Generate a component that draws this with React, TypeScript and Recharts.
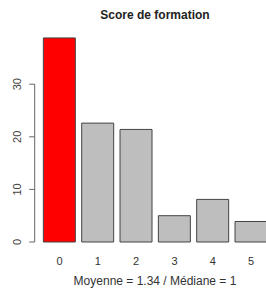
// Barplot of training scores (Score de formation)

import { BarChart, Bar, XAxis, YAxis, Cell } from "recharts";

const scores = ["0", "1", "2", "3", "4", "5"];
const percents = [38.8, 22.6, 21.4, 5.0, 8.1, 3.9];
const yTicks = [0, 10, 20, 30];

const Y_MAX = 40;
const PLOT_TOP = 31.6;
const PLOT_BOTTOM = 242;
const AXIS_X = 34.7;
const FONT = "'Liberation Sans', Arial, sans-serif";

const data = scores.map((score, i) => ({ score, value: percents[i] }));

function YTick(props: any) {
  const { y, payload } = props;
  const last = payload.value === yTicks[yTicks.length - 1];
  const y0 = y + (payload.value * (PLOT_BOTTOM - PLOT_TOP)) / Y_MAX;
  return (
    <g>
      <line x1={AXIS_X - 5.5} y1={y} x2={AXIS_X} y2={y} stroke="#666" />
      {last && <line x1={AXIS_X} y1={y} x2={AXIS_X} y2={y0} stroke="#666" />}
      <text
        x={16.7}
        y={y}
        transform={`rotate(-90 16.7 ${y})`}
        textAnchor="middle"
        dominantBaseline="central"
        fontSize={11}
        fill="#444"
        fontFamily={FONT}
      >
        {payload.value}
      </text>
    </g>
  );
}

export default function App() {
  return (
    <div
      style={{
        position: "fixed",
        left: 0,
        top: 0,
        width: 266,
        height: 289,
        overflow: "hidden",
        background: "#fff",
        fontFamily: FONT,
      }}
    >
      <div
        style={{
          position: "absolute",
          left: 0,
          width: 310,
          top: 8,
          textAlign: "center",
          fontSize: 12,
          fontWeight: "bold",
          color: "#222",
        }}
      >
        Score de formation
      </div>
      <BarChart
        width={271}
        height={289}
        data={data}
        margin={{ top: PLOT_TOP, right: 0.65, bottom: 0, left: 0 }}
      >
        <YAxis
          width={40.35}
          domain={[0, Y_MAX]}
          ticks={yTicks}
          axisLine={false}
          tickLine={false}
          tick={<YTick />}
        />
        <XAxis
          dataKey="score"
          height={47}
          axisLine={false}
          tickLine={false}
          tickSize={6}
          tickMargin={9}
          tick={{ fontSize: 11, fill: "#333", fontFamily: FONT }}
          interval={0}
        />
        <Bar dataKey="value" barSize={32} stroke="#444" strokeWidth={1} isAnimationActive={false}>
          {data.map((d, i) => (
            <Cell key={d.score} fill={i === 0 ? "#FF0000" : "#BEBEBE"} />
          ))}
        </Bar>
      </BarChart>
      <div
        style={{
          position: "absolute",
          left: 0,
          width: 310,
          top: 274,
          textAlign: "center",
          fontSize: 12,
          color: "#333",
        }}
      >
        Moyenne = 1.34 / Médiane = 1
      </div>
    </div>
  );
}
